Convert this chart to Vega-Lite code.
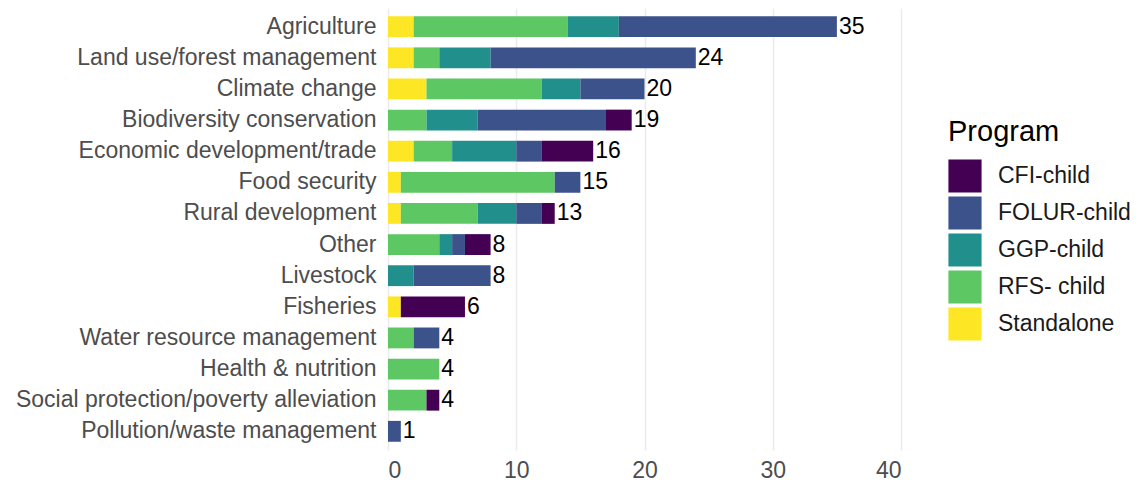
{
  "$schema": "https://vega.github.io/schema/vega-lite/v6.json",
  "width": 513,
  "height": 442,
  "autosize": {"type": "none"},
  "padding": {"left": 388, "top": 8, "right": 239, "bottom": 35},
  "background": "white",
  "config": {
    "view": {"stroke": null},
    "font": "Liberation Sans",
    "axis": {"domain": false, "ticks": false, "labelFont": "Liberation Sans"}
  },
  "data": {
    "values": [
      {"Category": "Agriculture", "Program": "Standalone", "Count": 2},
      {"Category": "Agriculture", "Program": "RFS- child", "Count": 12},
      {"Category": "Agriculture", "Program": "GGP-child", "Count": 4},
      {"Category": "Agriculture", "Program": "FOLUR-child", "Count": 17},
      {"Category": "Land use/forest management", "Program": "Standalone", "Count": 2},
      {"Category": "Land use/forest management", "Program": "RFS- child", "Count": 2},
      {"Category": "Land use/forest management", "Program": "GGP-child", "Count": 4},
      {"Category": "Land use/forest management", "Program": "FOLUR-child", "Count": 16},
      {"Category": "Climate change", "Program": "Standalone", "Count": 3},
      {"Category": "Climate change", "Program": "RFS- child", "Count": 9},
      {"Category": "Climate change", "Program": "GGP-child", "Count": 3},
      {"Category": "Climate change", "Program": "FOLUR-child", "Count": 5},
      {"Category": "Biodiversity conservation", "Program": "RFS- child", "Count": 3},
      {"Category": "Biodiversity conservation", "Program": "GGP-child", "Count": 4},
      {"Category": "Biodiversity conservation", "Program": "FOLUR-child", "Count": 10},
      {"Category": "Biodiversity conservation", "Program": "CFI-child", "Count": 2},
      {"Category": "Economic development/trade", "Program": "Standalone", "Count": 2},
      {"Category": "Economic development/trade", "Program": "RFS- child", "Count": 3},
      {"Category": "Economic development/trade", "Program": "GGP-child", "Count": 5},
      {"Category": "Economic development/trade", "Program": "FOLUR-child", "Count": 2},
      {"Category": "Economic development/trade", "Program": "CFI-child", "Count": 4},
      {"Category": "Food security", "Program": "Standalone", "Count": 1},
      {"Category": "Food security", "Program": "RFS- child", "Count": 12},
      {"Category": "Food security", "Program": "FOLUR-child", "Count": 2},
      {"Category": "Rural development", "Program": "Standalone", "Count": 1},
      {"Category": "Rural development", "Program": "RFS- child", "Count": 6},
      {"Category": "Rural development", "Program": "GGP-child", "Count": 3},
      {"Category": "Rural development", "Program": "FOLUR-child", "Count": 2},
      {"Category": "Rural development", "Program": "CFI-child", "Count": 1},
      {"Category": "Other", "Program": "RFS- child", "Count": 4},
      {"Category": "Other", "Program": "GGP-child", "Count": 1},
      {"Category": "Other", "Program": "FOLUR-child", "Count": 1},
      {"Category": "Other", "Program": "CFI-child", "Count": 2},
      {"Category": "Livestock", "Program": "GGP-child", "Count": 2},
      {"Category": "Livestock", "Program": "FOLUR-child", "Count": 6},
      {"Category": "Fisheries", "Program": "Standalone", "Count": 1},
      {"Category": "Fisheries", "Program": "CFI-child", "Count": 5},
      {"Category": "Water resource management", "Program": "RFS- child", "Count": 2},
      {"Category": "Water resource management", "Program": "FOLUR-child", "Count": 2},
      {"Category": "Health & nutrition", "Program": "RFS- child", "Count": 4},
      {"Category": "Social protection/poverty alleviation", "Program": "RFS- child", "Count": 3},
      {"Category": "Social protection/poverty alleviation", "Program": "CFI-child", "Count": 1},
      {"Category": "Pollution/waste management", "Program": "FOLUR-child", "Count": 1}
    ]
  },
  "encoding": {
    "y": {
      "field": "Category",
      "type": "nominal",
      "sort": ["Agriculture", "Land use/forest management", "Climate change", "Biodiversity conservation", "Economic development/trade", "Food security", "Rural development", "Other", "Livestock", "Fisheries", "Water resource management", "Health & nutrition", "Social protection/poverty alleviation", "Pollution/waste management"],
      "scale": {"paddingInner": 0.33, "paddingOuter": 0.265},
      "axis": {"title": null, "labelFontSize": 23, "labelColor": "#4d4d4d", "labelPadding": 12, "labelLimit": 0, "grid": false}
    }
  },
  "layer": [
    {
      "mark": {"type": "bar"},
      "encoding": {
        "x": {
          "field": "Count",
          "type": "quantitative",
          "aggregate": "sum",
          "stack": "zero",
          "scale": {"domain": [0, 40], "nice": false},
          "axis": {"title": null, "values": [0, 10, 20, 30, 40], "labelFontSize": 23, "labelColor": "#4d4d4d", "labelPadding": 9, "grid": true, "gridColor": "#ebebeb", "gridWidth": 1.5}
        },
        "color": {
          "field": "Program",
          "type": "nominal",
          "scale": {
            "domain": ["CFI-child", "FOLUR-child", "GGP-child", "RFS- child", "Standalone"],
            "range": ["#440154", "#3B528B", "#21908C", "#5DC863", "#FDE725"]
          },
          "legend": {
            "orient": "none",
            "legendX": 560,
            "legendY": 110,
            "title": "Program",
            "titleFontSize": 29,
            "titleFontWeight": "normal",
            "titleColor": "#000000",
            "titlePadding": 12,
            "labelFontSize": 23,
            "labelColor": "#1a1a1a",
            "labelOffset": 16,
            "symbolType": "square",
            "symbolSize": 1100,
            "symbolStrokeWidth": 0,
            "symbolOpacity": 1,
            "rowPadding": 3
          }
        },
        "order": {"field": "Program", "sort": "descending"}
      }
    },
    {
      "mark": {"type": "text", "align": "left", "baseline": "middle", "dx": 2, "fontSize": 23, "color": "#000000"},
      "encoding": {
        "x": {"field": "Count", "type": "quantitative", "aggregate": "sum"},
        "text": {"field": "Count", "type": "quantitative", "aggregate": "sum"}
      }
    }
  ]
}
